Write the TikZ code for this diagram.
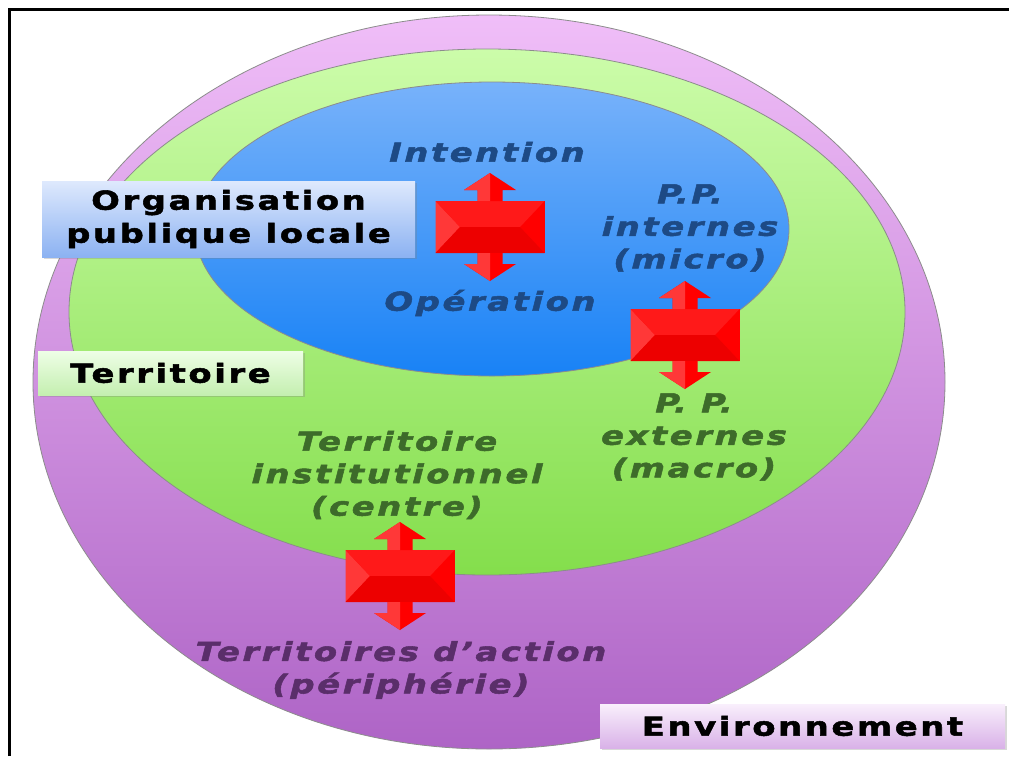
\documentclass[tikz,border=0pt]{standalone}
\usepackage{fontspec}
\setmainfont{DejaVu Sans}[FakeStretch=1.3, LetterSpace=10,
    BoldFeatures={FakeBold=2}, BoldItalicFeatures={FakeBold=2}]
\usepackage{tikz}
\usetikzlibrary{positioning}
\usetikzlibrary{shadows}

\definecolor{envtop}{HTML}{F0BEF8}
\definecolor{envmid}{HTML}{CF8EE0}
\definecolor{envbot}{HTML}{AE64C6}
\definecolor{tertop}{HTML}{CCFCAA}
\definecolor{termid}{HTML}{A8EE78}
\definecolor{terbot}{HTML}{84DE4C}
\definecolor{orgtop}{HTML}{78B2FA}
\definecolor{orgmid}{HTML}{4A9AF8}
\definecolor{orgbot}{HTML}{1882F6}
\definecolor{orgtagtop}{HTML}{DEE9FD}
\definecolor{orgtagbot}{HTML}{8CB2F2}
\definecolor{tertagtop}{HTML}{EEFEE6}
\definecolor{tertagbot}{HTML}{C4EFB0}
\definecolor{envtagtop}{HTML}{F9EFFC}
\definecolor{envtagbot}{HTML}{D9B2E8}
\definecolor{bluetxt}{HTML}{1D4A85}
\definecolor{greentxt}{HTML}{3D6B2A}
\definecolor{purpletxt}{HTML}{5A2E6A}
\definecolor{arrowred}{HTML}{FF0000}

\begin{document}
\begin{tikzpicture}[
            x = 1pt,
            y = -1pt,
            zone/.style = {
                draw = black!45,
                line width = 0.8pt,
                shading = axis,
                top color = #1top,
                middle color = #1mid,
                bottom color = #1bot
            },
            inner/.style = {
                font = \fontsize{26}{32.5}\selectfont\bfseries\itshape,
                align = center,
                text = #1
            },
            tag/.style = {
                font = \fontsize{26}{33}\selectfont\bfseries,
                align = center,
                minimum height = 44pt,
                inner sep = 0pt,
                shading = axis,
                top color = #1tagtop,
                bottom color = #1tagbot,
                drop shadow = {shadow xshift=2pt, shadow yshift=-2pt, opacity=0.3}
            },
            ddarrow/.pic = {
                \fill[arrowred] (-54.5,-26) rectangle (54.5,26);
                \fill[arrowred!78!white] (-54.5,-26) -- (-30,0) -- (-54.5,26) -- cycle;
                \fill[arrowred!90!white] (-54.5,-26) -- (-30,0) -- (30,0) -- (54.5,-26) -- cycle;
                \fill[arrowred!93!black] (-54.5,26) -- (-30,0) -- (30,0) -- (54.5,26) -- cycle;
                \fill[arrowred] (-12.5,-26) -- (-12.5,-37) -- (-26,-37) -- (0,-54)
                    -- (26,-37) -- (12.5,-37) -- (12.5,-26) -- cycle;
                \fill[arrowred!78!white] (-12.5,-26) -- (-12.5,-37) -- (-26,-37) -- (0,-54) -- (0,-26) -- cycle;
                \fill[arrowred] (-12.5,26) -- (-12.5,37) -- (-26,37) -- (0,54)
                    -- (26,37) -- (12.5,37) -- (12.5,26) -- cycle;
                \fill[arrowred!78!white] (-12.5,26) -- (-12.5,37) -- (-26,37) -- (0,54) -- (0,26) -- cycle;
            }
            ]
            \useasboundingbox (0,0) rectangle (1009,756);
            \fill[white] (0,0) rectangle (1009,756);
            \draw[line width = 3pt] (9,756) -- (9,9) -- (1009,9);

            % the three nested zones
            \draw[zone=env] (489,382) ellipse [x radius=456, y radius=367];
            \draw[zone=ter] (487,312) ellipse [x radius=418, y radius=263];
            \draw[zone=org] (492,229) ellipse [x radius=297, y radius=147];

            % labels inside the zones
            \node[inner=bluetxt] (intention) at (487,152) {Intention};
            \node[inner=bluetxt] (operation) at (490,303) {Opération};
            \node[inner=bluetxt] (ppint) at (690,228) {P.P.\\internes\\(micro)};
            \node[inner=greentxt] (ppext) at (694,437) {P. P.\\externes\\(macro)};
            \node[inner=greentxt] (terinst) at (397,475) {Territoire\\institutionnel\\(centre)};
            \node[inner=purpletxt] (teraction) at (401,670) {Territoires d’action\\(périphérie)};

            % double arrows
            \pic (arrA) at (490,227) {ddarrow};
            \pic (arrB) at (685,335) {ddarrow};
            \pic (arrC) at (400,576) {ddarrow};

            % zone names
            \node[tag=org, minimum width=373pt, minimum height=76pt] (orglbl) at (228.5,219) {Organisation\\publique locale};
            \node[tag=ter, minimum width=265pt] (terlbl) at (170.5,373) {Territoire};
            \node[tag=env, minimum width=405pt] (envlbl) at (802.5,726) {Environnement};
        \end{tikzpicture}
\end{document}
